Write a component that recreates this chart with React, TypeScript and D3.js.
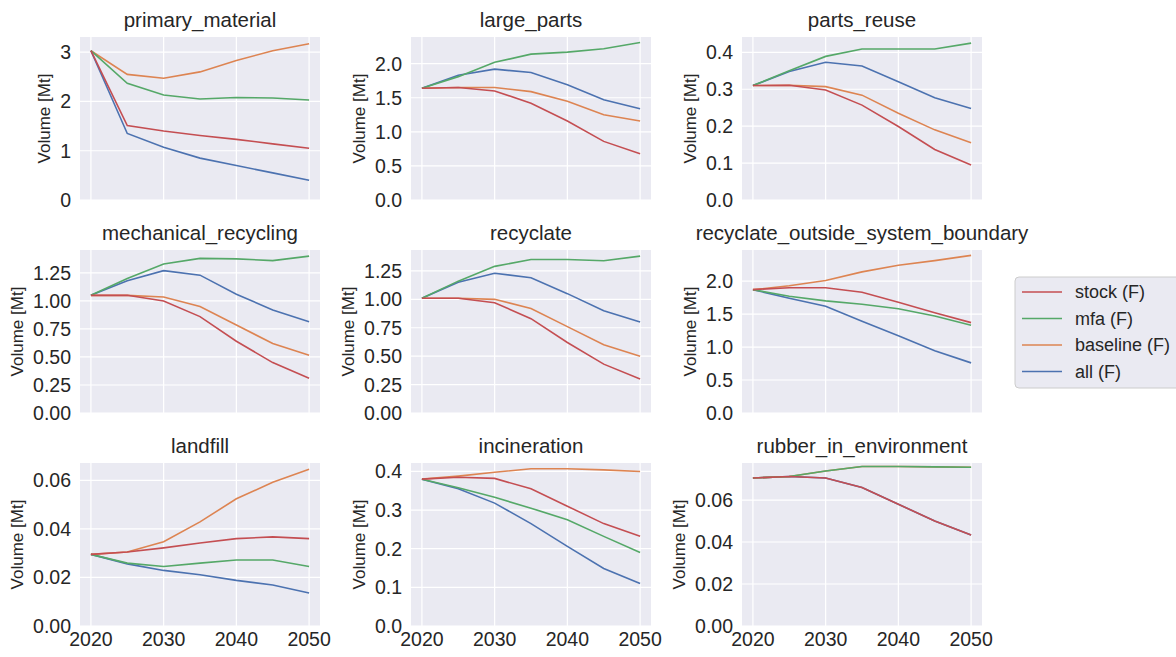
import React from "react";
import * as d3 from "d3";

// years on the x axis
const years = [2020, 2025, 2030, 2035, 2040, 2045, 2050];
const xTicks = [2020, 2030, 2040, 2050];

const seriesNames = ["stock (F)", "mfa (F)", "baseline (F)", "all (F)"];
const seriesColors = ["#c44e52", "#55a868", "#dd8452", "#4c72b0"];

// values per panel: stock, mfa, baseline, all
const primaryMaterial = [
  [3.03, 1.51, 1.4, 1.31, 1.23, 1.14, 1.05],
  [3.03, 2.37, 2.13, 2.05, 2.08, 2.07, 2.03],
  [3.03, 2.55, 2.47, 2.6, 2.83, 3.03, 3.17],
  [3.03, 1.35, 1.07, 0.85, 0.7, 0.55, 0.4],
];
const largeParts = [
  [1.64, 1.65, 1.6, 1.42, 1.16, 0.86, 0.68],
  [1.64, 1.81, 2.02, 2.14, 2.17, 2.22, 2.31],
  [1.64, 1.65, 1.65, 1.59, 1.45, 1.25, 1.16],
  [1.64, 1.83, 1.92, 1.87, 1.69, 1.47, 1.34],
];
const partsReuse = [
  [0.31, 0.311, 0.298, 0.257, 0.199, 0.137, 0.095],
  [0.31, 0.35, 0.389, 0.409, 0.409, 0.409, 0.425],
  [0.31, 0.311, 0.307, 0.284, 0.235, 0.19, 0.155],
  [0.31, 0.348, 0.373, 0.363, 0.32, 0.277, 0.248],
];
const mechanicalRecycling = [
  [1.05, 1.05, 1.0, 0.86, 0.64, 0.45, 0.31],
  [1.05, 1.2, 1.33, 1.38, 1.375, 1.36, 1.4],
  [1.05, 1.05, 1.035, 0.95, 0.785, 0.62, 0.515],
  [1.05, 1.18, 1.27, 1.23, 1.06, 0.92, 0.815],
];
const recyclate = [
  [1.01, 1.01, 0.97, 0.83, 0.62, 0.43, 0.3],
  [1.01, 1.16, 1.29, 1.35, 1.35, 1.34, 1.38],
  [1.01, 1.01, 1.0, 0.92, 0.76, 0.6, 0.5],
  [1.01, 1.15, 1.23, 1.19, 1.05, 0.9, 0.8],
];
const recyclateOutside = [
  [1.87, 1.9, 1.9, 1.83, 1.68, 1.52, 1.37],
  [1.87, 1.77, 1.7, 1.65, 1.58, 1.47, 1.33],
  [1.87, 1.93, 2.01, 2.14, 2.24, 2.31, 2.39],
  [1.87, 1.74, 1.62, 1.39, 1.17, 0.945, 0.76],
];
const landfill = [
  [0.0295, 0.0305, 0.0322, 0.0342, 0.036, 0.0367, 0.036],
  [0.0295, 0.0259, 0.0245, 0.0259, 0.0272, 0.0272, 0.0245],
  [0.0295, 0.0305, 0.0347, 0.0429, 0.0524, 0.0592, 0.0646],
  [0.0295, 0.0256, 0.0229, 0.0211, 0.0188, 0.0169, 0.0136],
];
const incineration = [
  [0.38, 0.385, 0.382, 0.355, 0.31, 0.265, 0.232],
  [0.38, 0.358, 0.333, 0.305, 0.275, 0.232, 0.19],
  [0.38, 0.388, 0.398, 0.407, 0.407, 0.404, 0.4],
  [0.38, 0.355, 0.318, 0.265, 0.206, 0.149, 0.11],
];
const rubberInEnvironment = [
  [0.0705, 0.0712, 0.0705, 0.066, 0.058, 0.05, 0.0433],
  [0.0705, 0.0712, 0.0738, 0.076, 0.076, 0.0758, 0.0756],
  [0.0705, 0.0712, 0.0738, 0.076, 0.076, 0.0758, 0.0756],
  [0.0705, 0.0712, 0.0705, 0.066, 0.058, 0.05, 0.0433],
];

// y tick labels per panel
const ticksPrimary = ["0", "1", "2", "3"];
const ticksLarge = ["0.0", "0.5", "1.0", "1.5", "2.0"];
const ticksReuse = ["0.0", "0.1", "0.2", "0.3", "0.4"];
const ticksMech = ["0.00", "0.25", "0.50", "0.75", "1.00", "1.25"];
const ticksRecyclate = ["0.00", "0.25", "0.50", "0.75", "1.00", "1.25"];
const ticksOutside = ["0.0", "0.5", "1.0", "1.5", "2.0"];
const ticksLandfill = ["0.00", "0.02", "0.04", "0.06"];
const ticksIncin = ["0.0", "0.1", "0.2", "0.3", "0.4"];
const ticksRubber = ["0.00", "0.02", "0.04", "0.06"];

const panels = [
  { title: "primary_material", data: primaryMaterial, ticks: ticksPrimary },
  { title: "large_parts", data: largeParts, ticks: ticksLarge },
  { title: "parts_reuse", data: partsReuse, ticks: ticksReuse },
  { title: "mechanical_recycling", data: mechanicalRecycling, ticks: ticksMech },
  { title: "recyclate", data: recyclate, ticks: ticksRecyclate },
  { title: "recyclate_outside_system_boundary", data: recyclateOutside, ticks: ticksOutside },
  { title: "landfill", data: landfill, ticks: ticksLandfill },
  { title: "incineration", data: incineration, ticks: ticksIncin },
  { title: "rubber_in_environment", data: rubberInEnvironment, ticks: ticksRubber },
];

const W = 1176;
const H = 657;
const colLeft = [80, 411, 742];
const rowTop = [37, 250, 463];
const pw = 240;
const ph = 163;
const font = "'Liberation Sans', Arial, sans-serif";
const textColor = "#262626";
const tickSize = 19.5;

// rough text width for tick labels
const textWidth = (s: string, size: number) =>
  d3.sum(s.split(""), (c) => (c === "." ? 0.278 : 0.556)) * size;

const x = d3.scaleLinear().domain([2018.5, 2051.5]).range([0, pw]);

const Panel = ({ p, i }: { p: any; i: number }) => {
  const col = i % 3;
  const row = Math.floor(i / 3);
  const left = colLeft[col];
  const top = rowTop[row];
  const all = p.data.flat();
  const mn = d3.min(all) as number;
  const mx = d3.max(all) as number;
  const y = d3.scaleLinear().domain([0, mx + 0.05 * (mx - mn)]).range([ph, 0]);
  const line = d3
    .line<number>()
    .x((_, k) => x(years[k]))
    .y((v) => y(v));
  const maxW = d3.max(p.ticks, (t: string) => textWidth(t, tickSize)) as number;
  const labelX = -9 - maxW - 10;
  const order = [3, 2, 1, 0];

  return (
    <g transform={`translate(${left},${top})`}>
      <rect width={pw} height={ph} fill="#eaeaf2" />
      {xTicks.map((t) => (
        <line key={t} x1={x(t)} x2={x(t)} y1={0} y2={ph} stroke="#fff" strokeWidth={1.2} />
      ))}
      {p.ticks.map((t: string) => (
        <line key={t} x1={0} x2={pw} y1={y(+t)} y2={y(+t)} stroke="#fff" strokeWidth={1.2} />
      ))}
      {order.map((s) => (
        <path
          key={s}
          d={line(p.data[s]) as string}
          fill="none"
          stroke={seriesColors[s]}
          strokeWidth={1.6}
        />
      ))}
      {p.ticks.map((t: string) => (
        <text
          key={t}
          x={-9}
          y={y(+t)}
          dy="0.36em"
          textAnchor="end"
          fontSize={tickSize}
          fill={textColor}
        >
          {t}
        </text>
      ))}
      {row === 2 &&
        xTicks.map((t) => (
          <text
            key={t}
            x={x(t)}
            y={ph + 20}
            textAnchor="middle"
            fontSize={tickSize}
            fill={textColor}
          >
            {t}
          </text>
        ))}
      <text
        transform={`translate(${labelX},${ph / 2}) rotate(-90)`}
        textAnchor="middle"
        fontSize={17}
        fill={textColor}
      >
        Volume [Mt]
      </text>
      <text x={pw / 2} y={-10} textAnchor="middle" fontSize={20.5} fill={textColor}>
        {p.title}
      </text>
    </g>
  );
};

export default function App() {
  const legendTop = 277;
  return (
    <svg
      width={W}
      height={H}
      style={{ position: "absolute", left: 0, top: 0, background: "#fff" }}
      fontFamily={font}
    >
      {panels.map((p, i) => (
        <Panel key={p.title} p={p} i={i} />
      ))}
      <g transform={`translate(1015,${legendTop})`}>
        <rect width={175} height={111} rx={4} fill="#eaeaf2" stroke="#cccccc" />
        {seriesNames.map((n, i) => (
          <g key={n} transform={`translate(0,${15 + i * 26.5})`}>
            <line x1={7} x2={47} y1={0} y2={0} stroke={seriesColors[i]} strokeWidth={1.6} />
            <text x={60} y={0} dy="0.36em" fontSize={18} fill={textColor}>
              {n}
            </text>
          </g>
        ))}
      </g>
    </svg>
  );
}
